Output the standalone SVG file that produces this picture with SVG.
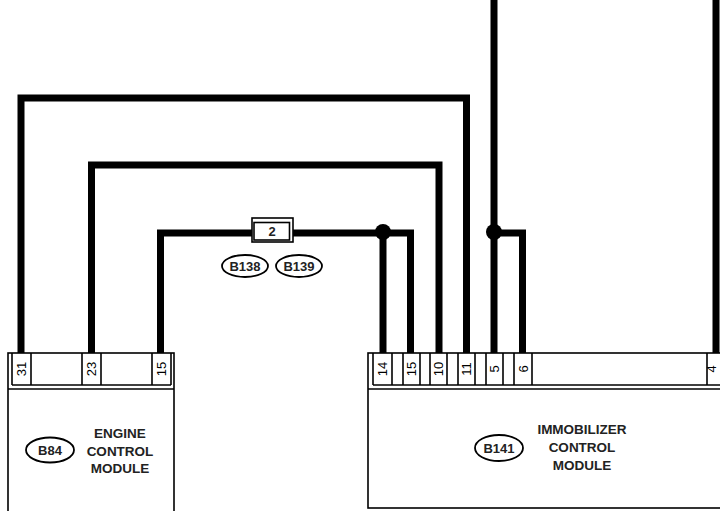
<svg xmlns="http://www.w3.org/2000/svg" width="720" height="511" viewBox="0 0 720 511">
<style>
.wire{fill:none;stroke:#000;stroke-width:7;stroke-linejoin:miter;stroke-linecap:butt}
.ln{fill:none;stroke:#000;stroke-width:1.6}
.box{fill:#fff;stroke:#000;stroke-width:1.6}
.pin{font-family:"Liberation Sans",Arial,sans-serif;font-size:13px;text-anchor:middle;fill:#000}
.lbl{font-family:"Liberation Sans",Arial,sans-serif;font-size:13.5px;font-weight:bold;text-anchor:middle;fill:#222}
.tag{font-family:"Liberation Sans",Arial,sans-serif;font-size:13px;font-weight:bold;text-anchor:middle;fill:#222}
.oval{fill:#fff;stroke:#000;stroke-width:1.8}
</style>
<rect width="720" height="511" fill="#fff"/>
<g id="connectors">
<polyline class="wire" points="21,353 21,98 466.5,98 466.5,353"/>
<polyline class="wire" points="91.5,353 91.5,165 439,165 439,353"/>
<polyline class="wire" points="160.5,353 160.5,233 410.5,233 410.5,353"/>
<line class="wire" x1="383" y1="233" x2="383" y2="353"/>
<line class="wire" x1="494" y1="0" x2="494" y2="353"/>
<polyline class="wire" points="494,233 522.5,233 522.5,353"/>
<line class="wire" x1="716" y1="0" x2="716" y2="353"/>
<circle cx="383" cy="232" r="8" fill="#000"/>
<circle cx="494" cy="232" r="8" fill="#000"/>
</g>
<g id="connector-b138-b139">
<rect class="box" x="252" y="218" width="41" height="24"/>
<rect class="box" x="254" y="222.5" width="35.5" height="17.5"/>
<text class="tag" x="272" y="236">2</text>
<ellipse class="oval" cx="245" cy="266" rx="23" ry="11"/>
<text class="tag" x="245" y="270.5">B138</text>
<ellipse class="oval" cx="299" cy="266" rx="23" ry="11"/>
<text class="tag" x="299" y="270.5">B139</text>
</g>
<g id="ecm">
<rect class="box" x="8" y="353" width="166" height="170"/>
<line class="ln" x1="12" y1="353" x2="12" y2="385"/>
<line class="ln" x1="31" y1="353" x2="31" y2="385"/>
<line class="ln" x1="82" y1="353" x2="82" y2="385"/>
<line class="ln" x1="101" y1="353" x2="101" y2="385"/>
<line class="ln" x1="152" y1="353" x2="152" y2="385"/>
<line class="ln" x1="171" y1="353" x2="171" y2="385"/>
<line class="ln" x1="12" y1="385" x2="171" y2="385"/>
<line class="ln" x1="8" y1="389" x2="174" y2="389" stroke-width="2"/>
<text class="pin" transform="translate(21.5,369) rotate(-90)" y="4.6">31</text>
<text class="pin" transform="translate(91.5,369) rotate(-90)" y="4.6">23</text>
<text class="pin" transform="translate(161.5,369) rotate(-90)" y="4.6">15</text>
<ellipse class="oval" cx="50" cy="450" rx="24" ry="12.5"/>
<text class="tag" x="50" y="455">B84</text>
<text class="lbl" x="120" y="438">ENGINE</text>
<text class="lbl" x="120" y="456">CONTROL</text>
<text class="lbl" x="120" y="473">MODULE</text>
</g>
<g id="imm">
<rect class="box" x="368" y="353" width="362" height="155"/>
<line class="ln" x1="373" y1="353" x2="373" y2="385"/>
<line class="ln" x1="392" y1="353" x2="392" y2="385"/>
<line class="ln" x1="403" y1="353" x2="403" y2="385"/>
<line class="ln" x1="420" y1="353" x2="420" y2="385"/>
<line class="ln" x1="430" y1="353" x2="430" y2="385"/>
<line class="ln" x1="447" y1="353" x2="447" y2="385"/>
<line class="ln" x1="458" y1="353" x2="458" y2="385"/>
<line class="ln" x1="475" y1="353" x2="475" y2="385"/>
<line class="ln" x1="486" y1="353" x2="486" y2="385"/>
<line class="ln" x1="503" y1="353" x2="503" y2="385"/>
<line class="ln" x1="514" y1="353" x2="514" y2="385"/>
<line class="ln" x1="532" y1="353" x2="532" y2="385"/>
<line class="ln" x1="707" y1="353" x2="707" y2="385"/>
<line class="ln" x1="373" y1="385" x2="720" y2="385"/>
<line class="ln" x1="368" y1="389" x2="720" y2="389" stroke-width="2"/>
<text class="pin" transform="translate(382.5,369) rotate(-90)" y="4.6">14</text>
<text class="pin" transform="translate(411.5,369) rotate(-90)" y="4.6">15</text>
<text class="pin" transform="translate(438.5,369) rotate(-90)" y="4.6">10</text>
<text class="pin" transform="translate(466.5,369) rotate(-90)" y="4.6">11</text>
<text class="pin" transform="translate(494.5,369) rotate(-90)" y="4.6">5</text>
<text class="pin" transform="translate(523,369) rotate(-90)" y="4.6">6</text>
<text class="pin" transform="translate(712,369) rotate(-90)" y="4.2" font-size="12">4</text>
<ellipse class="oval" cx="499" cy="448" rx="24" ry="13"/>
<text class="tag" x="499" y="453">B141</text>
<text class="lbl" x="582" y="434">IMMOBILIZER</text>
<text class="lbl" x="582" y="452">CONTROL</text>
<text class="lbl" x="582" y="470">MODULE</text>
</g>
</svg>
